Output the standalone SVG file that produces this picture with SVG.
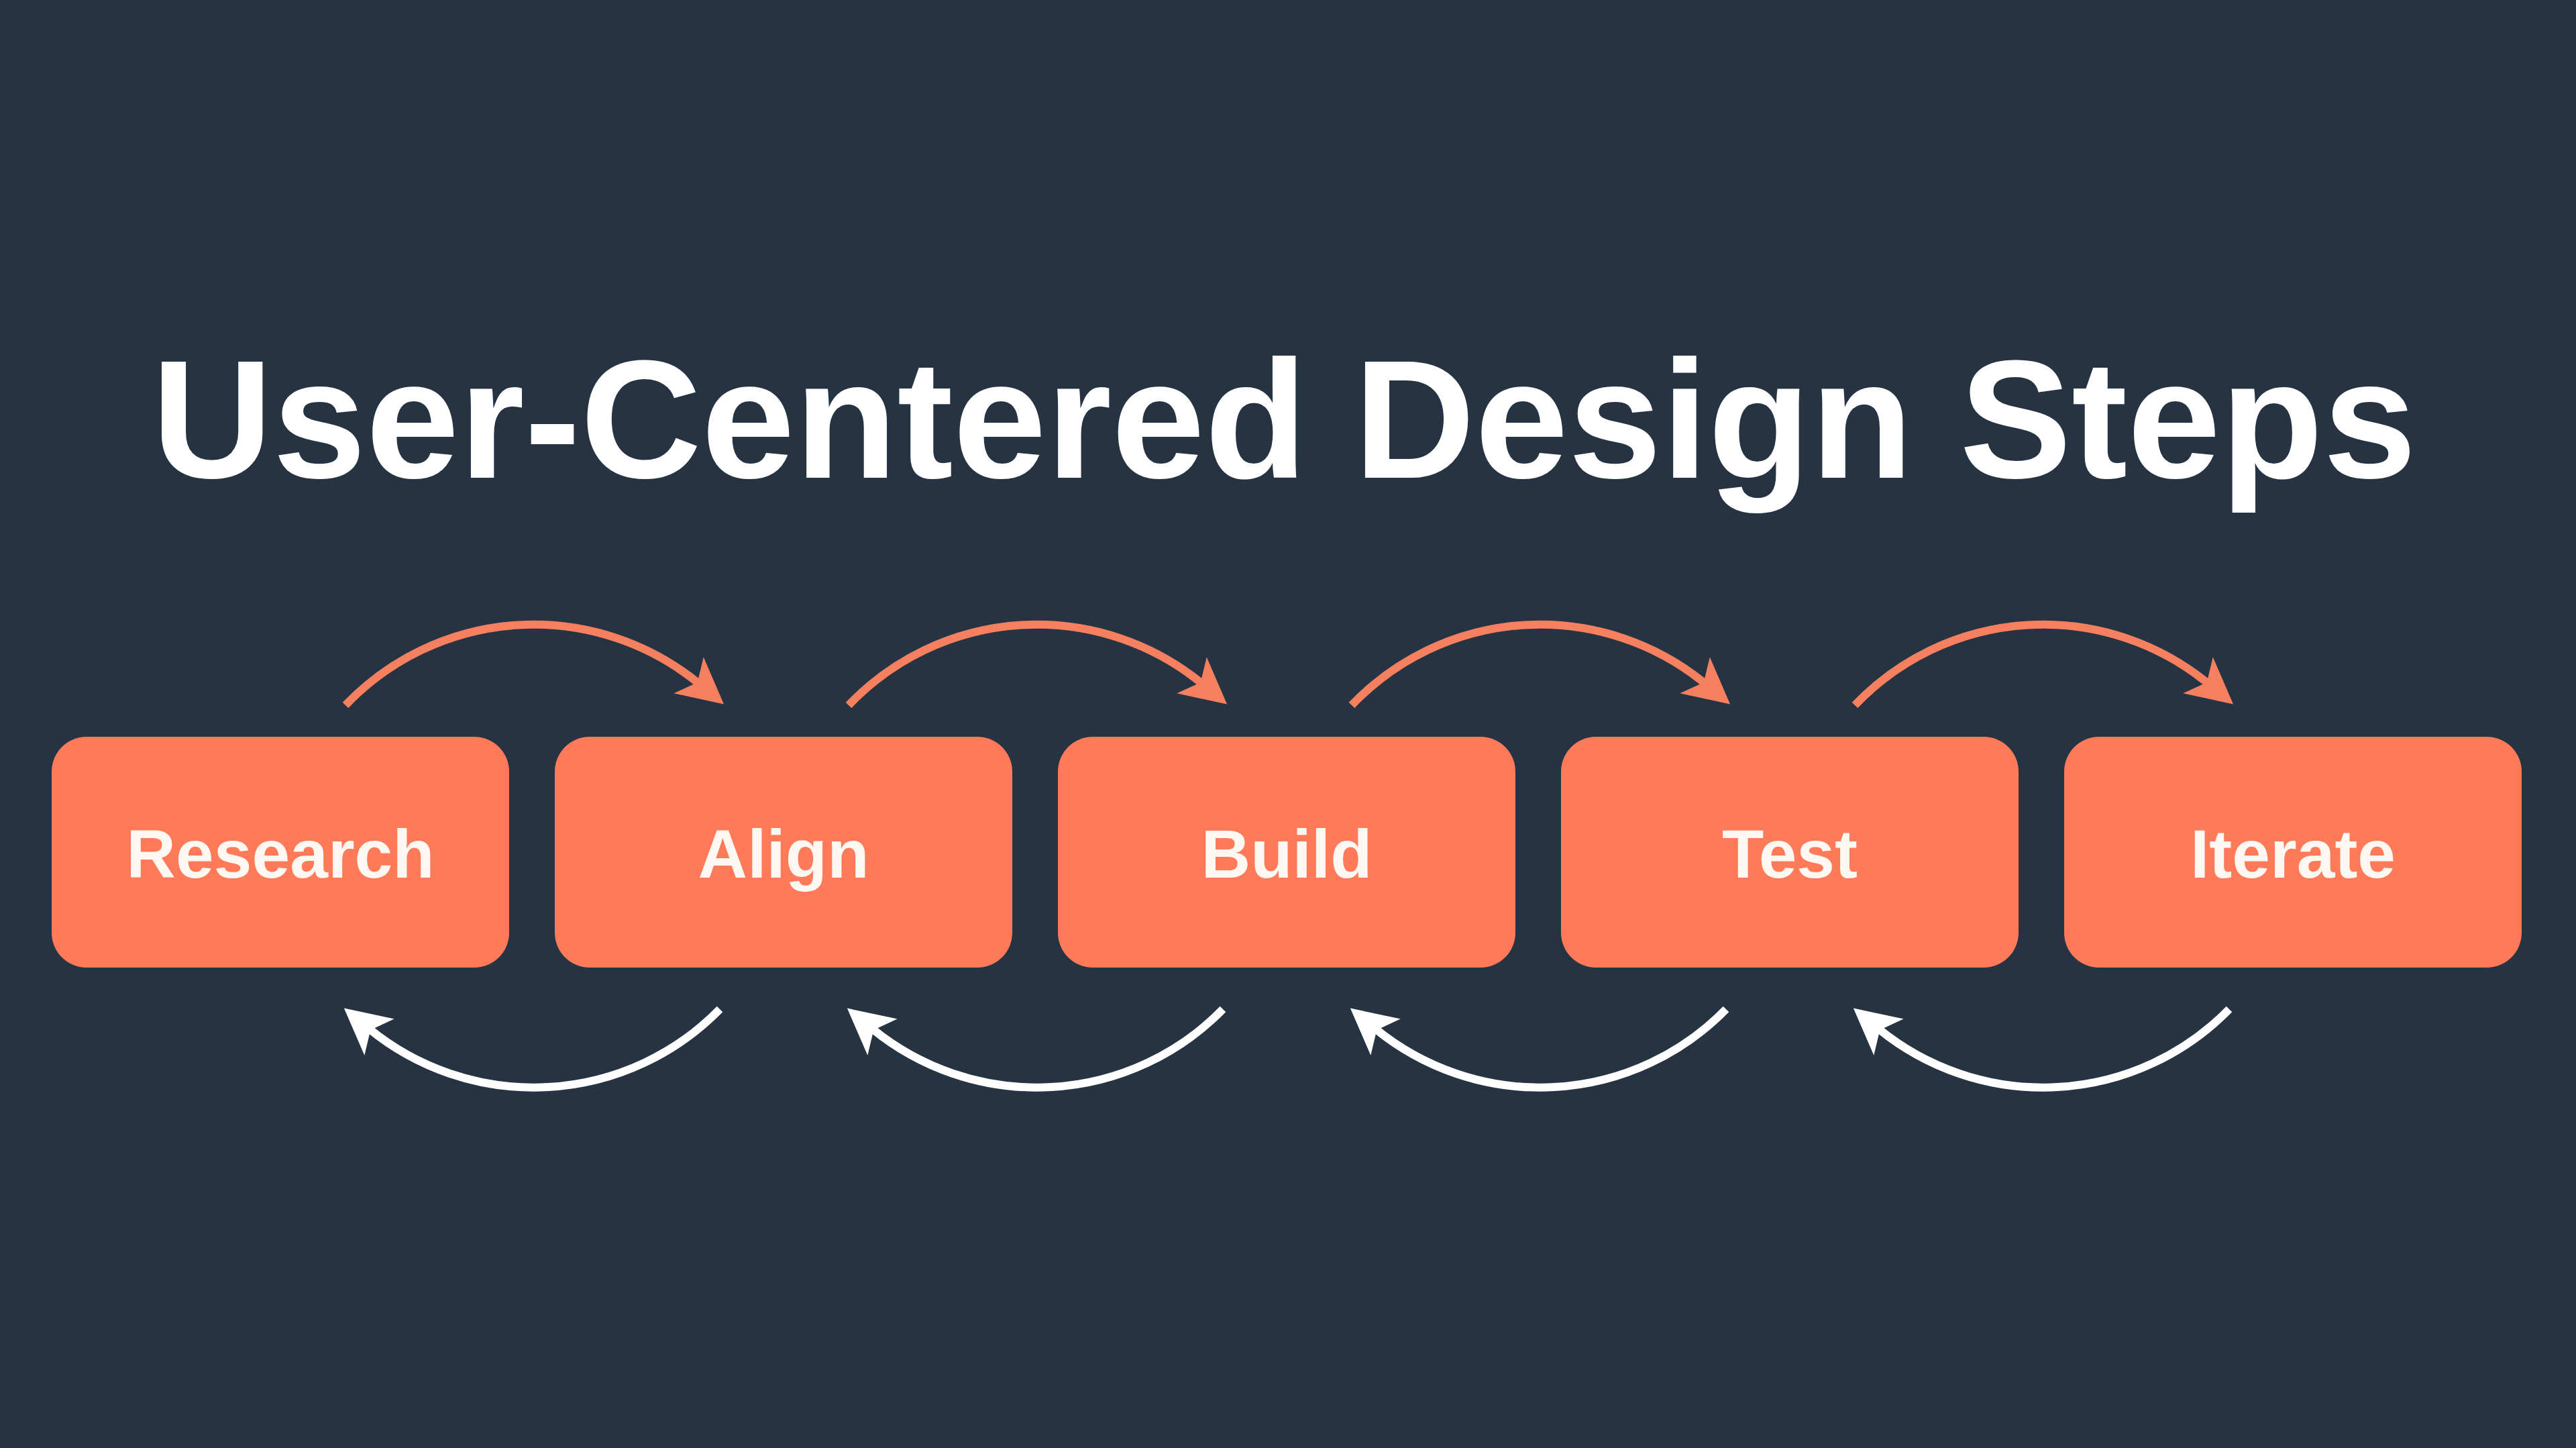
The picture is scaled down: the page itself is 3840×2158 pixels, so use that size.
<svg xmlns="http://www.w3.org/2000/svg" width="3840" height="2158" viewBox="0 0 3840 2158">
  <style>
    .bg { fill: #253342; }
    .title { font-family: "Liberation Sans", Arial, sans-serif; font-weight: 700; font-size: 250px; fill: #FFFFFF; }
    .box { fill: #FF7A59; }
    .label { font-family: "Liberation Sans", Arial, sans-serif; font-weight: 700; font-size: 102px; fill: #FFF8F2; text-anchor: middle; }
    .fwd { fill: none; stroke: #F5805F; stroke-width: 12; }
    .back { fill: none; stroke: #FFFFFF; stroke-width: 12; }
  </style>
  <defs>
    <marker id="headOrange" markerUnits="userSpaceOnUse" markerWidth="120" markerHeight="120" refX="60" refY="60" orient="auto" viewBox="0 0 120 120" overflow="visible">
      <path d="M108,60 L40,25 L57,60 L40,95 Z" fill="#F5805F"/>
    </marker>
    <marker id="headWhite" markerUnits="userSpaceOnUse" markerWidth="120" markerHeight="120" refX="60" refY="60" orient="auto" viewBox="0 0 120 120" overflow="visible">
      <path d="M108,60 L40,25 L57,60 L40,95 Z" fill="#FFFFFF"/>
    </marker>
  </defs>

  <rect class="bg" x="0" y="0" width="3840" height="2158"/>

  <text id="title" class="title" x="1914" y="712" text-anchor="middle">User-Centered Design Steps</text>

  <g id="connectors">
    <path class="fwd" d="M515,1051 A388,388 0 0 1 1042,1019" marker-end="url(#headOrange)"/>
    <path class="fwd" d="M1265,1051 A388,388 0 0 1 1792,1019" marker-end="url(#headOrange)"/>
    <path class="fwd" d="M2015,1051 A388,388 0 0 1 2542,1019" marker-end="url(#headOrange)"/>
    <path class="fwd" d="M2765,1051 A388,388 0 0 1 3292,1019" marker-end="url(#headOrange)"/>

    <path class="back" d="M1073,1504 A388,388 0 0 1 550,1533" marker-end="url(#headWhite)"/>
    <path class="back" d="M1823,1504 A388,388 0 0 1 1300,1533" marker-end="url(#headWhite)"/>
    <path class="back" d="M2573,1504 A388,388 0 0 1 2050,1533" marker-end="url(#headWhite)"/>
    <path class="back" d="M3323,1504 A388,388 0 0 1 2800,1533" marker-end="url(#headWhite)"/>
  </g>

  <g id="node-research">
    <rect class="box" x="77" y="1098" width="682" height="344" rx="52"/>
    <text class="label" x="418" y="1308">Research</text>
  </g>
  <g id="node-align">
    <rect class="box" x="827" y="1098" width="682" height="344" rx="52"/>
    <text class="label" x="1168" y="1308">Align</text>
  </g>
  <g id="node-build">
    <rect class="box" x="1577" y="1098" width="682" height="344" rx="52"/>
    <text class="label" x="1918" y="1308">Build</text>
  </g>
  <g id="node-test">
    <rect class="box" x="2327" y="1098" width="682" height="344" rx="52"/>
    <text class="label" x="2668" y="1308">Test</text>
  </g>
  <g id="node-iterate">
    <rect class="box" x="3077" y="1098" width="682" height="344" rx="52"/>
    <text class="label" x="3418" y="1308">Iterate</text>
  </g>
</svg>
